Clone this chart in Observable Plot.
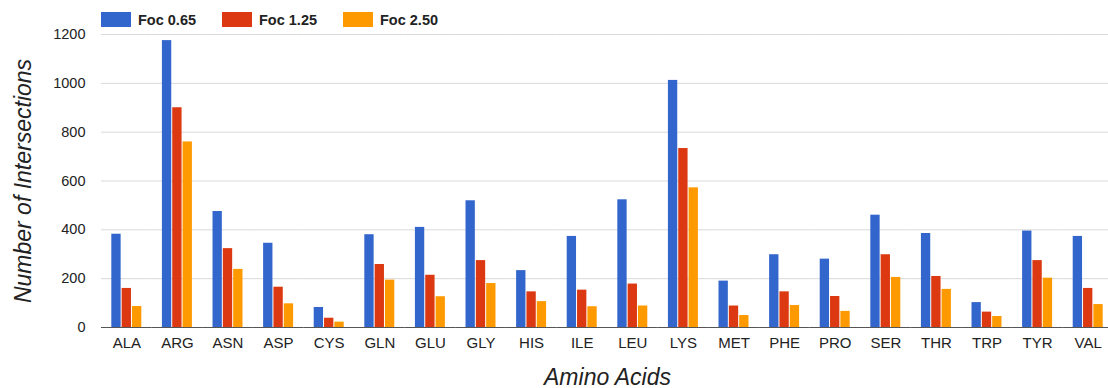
<!DOCTYPE html>
<html>
<head>
<meta charset="utf-8">
<script src="https://cdn.jsdelivr.net/npm/d3@7"></script>
<script src="https://cdn.jsdelivr.net/npm/@observablehq/plot@0.6"></script>
<style>
  html, body { margin: 0; padding: 0; background: #fff; overflow: hidden; }
  body { font-family: "Liberation Sans", Arial, sans-serif; width: 1108px; height: 388px; }
  #legend { height: 28px; display: flex; padding-left: 101px; box-sizing: border-box; }
  .item { width: 121px; display: flex; align-items: center; margin-top: 12px; height: 15px; }
  .sw { width: 30px; height: 15px; margin-right: 7px; flex: none; }
  .lab { font-weight: bold; font-size: 14.5px; color: #222; white-space: nowrap; }
  g[aria-label="y-axis label"] text, g[aria-label="fx-axis label"] text { font-style: italic; font-size: 23px; fill: #222; }
</style>
</head>
<body>
<div id="legend"></div>
<div id="chart"></div>
<script>
const categories = ["ALA","ARG","ASN","ASP","CYS","GLN","GLU","GLY","HIS","ILE","LEU","LYS","MET","PHE","PRO","SER","THR","TRP","TYR","VAL"];
const seriesNames = ["Foc 0.65", "Foc 1.25", "Foc 2.50"];
const seriesColors = ["#3366cc", "#dc3912", "#ff9900"];
const foc065 = [382,1175,475,345,82,380,410,519,233,373,523,1012,190,298,280,460,385,102,395,373];
const foc125 = [160,900,323,165,38,258,214,274,146,153,178,733,88,146,127,298,209,63,274,160];
const foc250 = [86,760,238,97,22,194,126,180,106,85,88,572,49,90,66,205,156,45,202,94];
const yTicks = [0,200,400,600,800,1000,1200];

const seriesValues = [foc065, foc125, foc250];
const data = [];
categories.forEach((c, i) => {
  seriesNames.forEach((s, j) => data.push({aa: c, series: s, value: seriesValues[j][i]}));
});

// legend
const legend = document.getElementById("legend");
seriesNames.forEach((s, j) => {
  const it = document.createElement("div");
  it.className = "item";
  it.innerHTML = `<span class="sw" style="background:${seriesColors[j]}"></span><span class="lab">${s}</span>`;
  legend.appendChild(it);
});

const chart = Plot.plot({
  width: 1108,
  height: 360,
  marginTop: 6,
  marginLeft: 101,
  marginRight: -5,
  marginBottom: 61,
  style: {fontFamily: "'Liberation Sans', Arial, sans-serif", fontSize: "14.5px", color: "#222", overflow: "visible"},
  fx: {domain: categories, padding: 0, round: false},
  x: {domain: seriesNames, paddingInner: 0, paddingOuter: 0.95, round: false, axis: null},
  y: {domain: [0, 1200]},
  color: {domain: seriesNames, range: seriesColors},
  marks: [
    Plot.gridY(yTicks, {stroke: "#d9d9d9", strokeOpacity: 1, strokeWidth: 1}),
    Plot.barY(data, {fx: "aa", x: "series", y: "value", fill: "series", insetLeft: 0.5, insetRight: 0.5}),
    Plot.ruleY([0], {stroke: "#555", strokeWidth: 1}),
    Plot.axisY({ticks: yTicks, tickSize: 0, tickPadding: 16, label: "Number of Intersections", labelArrow: "none", labelAnchor: "center", labelOffset: 87, tickFormat: d => String(d)}),
    Plot.axisFx({anchor: "bottom", tickSize: 0, tickPadding: 10, fontSize: 15, label: "Amino Acids", labelArrow: "none", labelAnchor: "center", labelOffset: 57})
  ]
});
document.getElementById("chart").appendChild(chart);
// strip any label arrows
d3.select(chart).selectAll('g[aria-label="y-axis label"] text, g[aria-label="fx-axis label"] text')
  .each(function() { this.textContent = this.textContent.replace(/[↑↓←→]\s*|\s*[↑↓←→]/g, ""); });
</script>
</body>
</html>
